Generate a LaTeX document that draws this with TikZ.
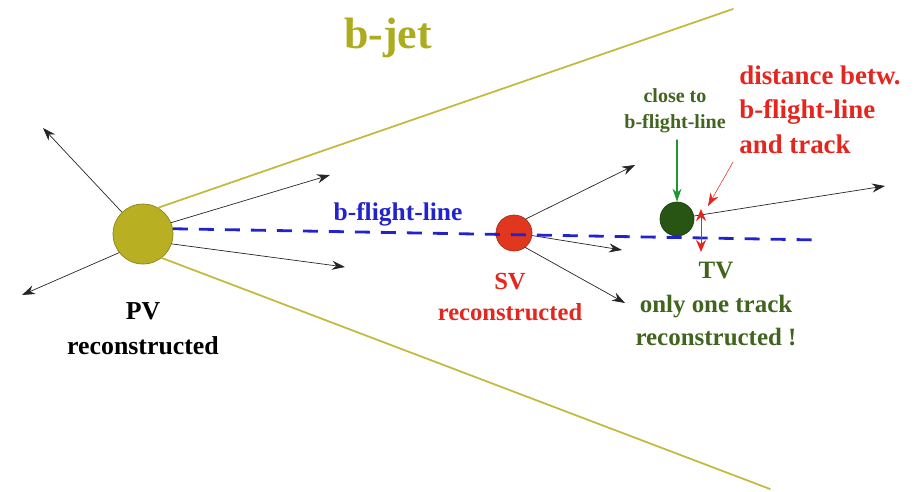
\documentclass[tikz,border=0pt]{standalone}
\usepackage{fontspec}
\setmainfont{Liberation Serif}
\usetikzlibrary{arrows.meta}
\definecolor{jetolive}{RGB}{172,172,30}
\definecolor{jetline}{RGB}{195,185,60}
\definecolor{pvfill}{RGB}{185,175,35}
\definecolor{svred}{RGB}{225,55,30}
\definecolor{txtred}{RGB}{228,38,30}
\definecolor{tvgreen}{RGB}{40,85,20}
\definecolor{txtgreen}{RGB}{65,100,30}
\definecolor{arrgreen}{RGB}{30,150,50}
\definecolor{flblue}{RGB}{35,35,205}
\begin{document}
\begin{tikzpicture}[x=0.02cm, y=-0.02cm, line join=round, line cap=round, >={Stealth[length=2.6mm,width=1.8mm]},
	vtx/.style={circle, draw=#1!75!black, fill=#1, inner sep=0pt},
	trk/.style={->, draw=black!85, line width=0.4pt},
	lab/.style={inner sep=0pt, align=center}]
	\useasboundingbox (0,0) rectangle (918,491);
	\node[vtx=pvfill, minimum size=1.2cm] (PV) at (143,234) {};
	\node[vtx=svred, minimum size=0.72cm] (SV) at (514,233) {};
	\node[vtx=tvgreen, minimum size=0.68cm] (TV) at (677,219) {};
	\coordinate (jetup) at (733,9);
	\coordinate (jetdn) at (770,489);
	\coordinate (flend) at (820,240);
	\draw[jetline, line width=1pt] (PV.60)--(jetup) (PV.-52)--(jetdn);
	\coordinate (p1) at (43,128); \coordinate (p2) at (22,295);
	\coordinate (p3) at (330,175); \coordinate (p4) at (345,267);
	\coordinate (s1) at (635,165); \coordinate (s2) at (622,250); \coordinate (s3) at (625,303);
	\coordinate (t1) at (885,186);
	\foreach \a/\t in {134/p1, 218/p2, 22/p3, -19/p4} \draw[trk] (PV.\a)--(\t);
	\foreach \a/\t in {50/s1, -8/s2, -52/s3} \draw[trk] (SV.\a)--(\t);
	\draw[trk] (TV.10)--(t1);
	\draw[flblue, line width=1.6pt, line cap=butt, dash pattern=on 0.3cm off 0.22cm] (PV.10)--(flend);
	\node[lab, anchor=base, text=jetolive, font=\bfseries\fontsize{25}{28}\selectfont] (bjet) at (388,48) {b-jet};
	\node[lab, anchor=base, text=flblue, font=\bfseries\fontsize{14.5}{18}\selectfont] (fllab) at (398,220) {b-flight-line};
	\node[lab, anchor=north, font=\bfseries\fontsize{14.7}{20}\selectfont] (pvlab) at (143,302) {PV\\reconstructed};
	\node[lab, anchor=north, text=txtred, font=\bfseries\fontsize{14}{17.5}\selectfont] (svlab) at (510,273) {SV\\reconstructed};
	\node[lab, anchor=north, text=txtgreen, font=\bfseries\fontsize{14.2}{19}\selectfont] (tvlab) at (716,262) {TV\\only one track\\reconstructed !};
	\node[lab, anchor=north, text=txtgreen, font=\bfseries\fontsize{11.4}{14.7}\selectfont] (close) at (675,88) {close to\\b-flight-line};
	\node[lab, anchor=north west, align=left, text=txtred, font=\bfseries\fontsize{15.3}{19.8}\selectfont] (dist) at (739,65) {distance betw.\\b-flight-line\\and track};
	\draw[->, arrgreen, line width=0.6pt, shorten <=4pt] (close.south -| TV.north)--(TV.north);
	\coordinate (dfrom) at (733,162);
	\coordinate (dtip) at (708,206);
	\coordinate (dtop) at (701,209);
	\coordinate (dbot) at (701,252);
	\draw[->, txtred, line width=0.3pt] (dfrom)--(dtip);
	\draw[<->, txtred, line width=0.4pt, >={Stealth[length=2.4mm,width=2mm]}] (dtop)--(dbot);
\end{tikzpicture}
\end{document}
